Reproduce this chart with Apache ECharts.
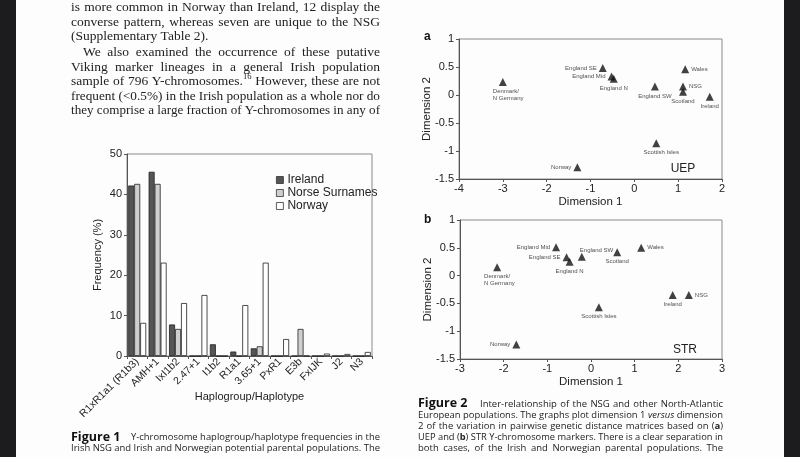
<!DOCTYPE html>
<html><head><meta charset="utf-8">
<script src="https://cdn.jsdelivr.net/npm/echarts@6/dist/echarts.min.js"></script>
<style>html,body{margin:0;padding:0;background:#fff}#c{width:800px;height:457px}</style>
</head><body><div id="c"></div>
<script>
// ---- Figure 1 data ----
const categories = ['R1xR1a1 (R1b3)','AMH+1','IxI1b2','2.47+1','I1b2','R1a1','3.65+1','PxR1','E3b','FxIJK','J2','N3'];
const ireland = [42.2,45.6,7.8,0,2.9,1.1,1.9,0,0,0,0,0];
const norse   = [42.6,42.6,6.7,0,0,0,2.4,0,6.7,0,0,0];
const norway  = [8.2,23.1,13.1,15.1,0,12.6,23.1,4.2,0,0.6,0.5,1.0];
const freqTicks = [0,10,20,30,40,50];

// ---- Figure 2a (UEP) ----
const popA  = ['Denmark/\nN Germany','England SE','England Mid','England N','England SW','Wales','NSG','Scotland','Ireland','Scottish Isles','Norway'];
const dim1A = [-3.0,-0.72,-0.52,-0.47,0.47,1.16,1.11,1.11,1.72,0.50,-1.30];
const dim2A = [0.23,0.48,0.33,0.29,0.15,0.46,0.15,0.06,-0.03,-0.86,-1.29];

// ---- Figure 2b (STR) ----
const popB  = ['Denmark/\nN Germany','England Mid','England SE','England N','England SW','Scotland','Wales','Ireland','NSG','Scottish Isles','Norway'];
const dim1B = [-2.15,-0.80,-0.56,-0.49,-0.21,0.60,1.15,1.87,2.24,0.18,-1.71];
const dim2B = [0.15,0.51,0.33,0.25,0.34,0.42,0.50,-0.35,-0.35,-0.57,-1.24];

// label placement styles (not data)
const labA = [
  {position:'bottom',align:'left',offset:[-10,0]},{position:'left'},{position:'left'},{position:'bottom'},
  {position:'bottom'},{position:'right'},{position:'right'},{position:'bottom'},{position:'bottom'},
  {position:'bottom',offset:[5,0]},{position:'left'}];
const labB = [
  {position:'bottom',align:'left',offset:[-13,0]},{position:'left'},{position:'left'},{position:'bottom'},
  {position:'right',offset:[-8,-6]},{position:'bottom'},{position:'right'},{position:'bottom'},{position:'right'},
  {position:'bottom'},{position:'left'}];

// ---- page text ----
const bodyLines = [
  ['is more common in Norway than Ireland, 12 display the',71,7,true],
  ['converse pattern, whereas seven are unique to the NSG',71,22,true],
  ['(Supplementary Table 2).',71,36,false],
  ['We also examined the occurrence of these putative',83,52,true],
  ['Viking marker lineages in a general Irish population',71,67,true],
  ['sample of 796 Y-chromosomes.^16 However, these are not',71,81,true],
  ['frequent (<0.5%) in the Irish population as a whole nor do',71,96,true],
  ['they comprise a large fraction of Y-chromosomes in any of',71,110,true]
];
const cap1Lines = [
  ['Y-chromosome haplogroup/haplotype frequencies in the',131,380,437],
  ['Irish NSG and Irish and Norwegian potential parental populations. The',71,380,448]
];
const cap2Lines = [
  ['Inter-relationship of the NSG and other North-Atlantic',480,723,404],
  ['European populations. The graphs plot dimension 1 _versus_ dimension',418,723,415],
  ['2 of the variation in pairwise genetic distance matrices based on (**a**)',418,723,426],
  ['UEP and (**b**) STR Y-chromosome markers. There is a clear separation in',418,723,437],
  ['both cases, of the Irish and Norwegian parental populations. The',418,723,448]
];

const ctx = document.createElement('canvas').getContext('2d');
function measure(t,font){ctx.font=font;return ctx.measureText(t).width;}
const FONTS = {
  body:{n:'13.5px "Liberation Serif"',b:'bold 13.5px "Liberation Serif"',i:'italic 13.5px "Liberation Serif"',s:'8.5px "Liberation Serif"'},
  cap:{n:'9.5px "Open Sans"',b:'bold 9.5px "Open Sans"',i:'italic 9.5px "Open Sans"',s:'6px "Open Sans"'}
};
function parseWord(w){
  const segs=[];const re=/\*\*(.+?)\*\*|_(.+?)_|\^(\S+)|([^*_^]+)/g;let m;
  while((m=re.exec(w))){
    if(m[1])segs.push({t:m[1],k:'b'});else if(m[2])segs.push({t:m[2],k:'i'});
    else if(m[3])segs.push({t:m[3],k:'s'});else segs.push({t:m[4],k:'n'});
  }
  return segs;
}
function textLine(str,x0,x1,y,fam,justify,color){
  const F=FONTS[fam];const words=str.split(' ').map(parseWord);
  const ww=words.map(s=>s.reduce((a,g)=>a+measure(g.t,F[g.k]),0));
  const tot=ww.reduce((a,b)=>a+b,0);const sp=measure(' ',F.n);const gaps=words.length-1;
  let scale=1,gap=sp;const natural=tot+gaps*sp;
  if(justify && natural>x1-x0){scale=(x1-x0)/natural;gap=sp*scale;}
  else if(justify&&gaps>0){gap=(x1-x0-tot)/gaps;}
  const els=[];let x=x0;
  words.forEach(segs=>{
    segs.forEach(g=>{
      const w=measure(g.t,F[g.k]);
      els.push({type:'text',x:x,y:g.k==='s'?y-4:y,scaleX:scale,silent:true,
        style:{text:g.t,font:F[g.k],fill:color,textVerticalAlign:'middle',verticalAlign:'middle'}});
      x+=w*scale;
    });
    x+=gap;
  });
  return els;
}
let gEls=[
  {type:'rect',shape:{x:0,y:0,width:16,height:457},style:{fill:'#1c1c1e'},silent:true},
  {type:'rect',shape:{x:784,y:0,width:16,height:457},style:{fill:'#1c1c1e'},silent:true}
];
bodyLines.forEach(l=>{gEls=gEls.concat(textLine(l[0],l[1],380,l[2],'body',l[3],'#222'));});
cap1Lines.forEach(l=>{gEls=gEls.concat(textLine(l[0],l[1],l[2],l[3],'cap',true,'#222'));});
cap2Lines.forEach(l=>{gEls=gEls.concat(textLine(l[0],l[1],l[2],l[3],'cap',true,'#222'));});
const boldCap='bold 12.5px "Open Sans"';
gEls.push({type:'text',x:71,y:437,silent:true,style:{text:'Figure 1',font:boldCap,fill:'#111',textVerticalAlign:'middle',verticalAlign:'middle'}});
gEls.push({type:'text',x:418,y:403,silent:true,style:{text:'Figure 2',font:boldCap,fill:'#111',textVerticalAlign:'middle',verticalAlign:'middle'}});
const panelFont='bold 12px "Liberation Sans"';
gEls.push({type:'text',x:424,y:37,silent:true,style:{text:'a',font:panelFont,fill:'#111',textVerticalAlign:'middle',verticalAlign:'middle'}});
gEls.push({type:'text',x:424,y:220,silent:true,style:{text:'b',font:panelFont,fill:'#111',textVerticalAlign:'middle',verticalAlign:'middle'}});
gEls.push({type:'text',x:683,y:169,silent:true,style:{text:'UEP',font:'12px "Liberation Sans"',fill:'#222',textAlign:'center',align:'center',textVerticalAlign:'middle',verticalAlign:'middle'}});
gEls.push({type:'text',x:685,y:350,silent:true,style:{text:'STR',font:'12px "Liberation Sans"',fill:'#222',textAlign:'center',align:'center',textVerticalAlign:'middle',verticalAlign:'middle'}});

const axisCol='#555', frameCol='#8a8a8a', txt='#222';
function valAxis(grid,min,max,interval,name,gap,isY){
  return {type:'value',gridIndex:grid,min:min,max:max,interval:interval,name:name,nameLocation:'middle',nameGap:gap,nameMoveOverlap:false,
    nameTextStyle:{fontSize:11.5,color:txt,fontFamily:'Liberation Sans'},
    axisLine:{show:true,onZero:false,lineStyle:{color:axisCol,width:1}},
    axisTick:{show:true,length:3,lineStyle:{color:axisCol}},
    splitLine:{show:false},
    axisLabel:{fontSize:11,color:txt,margin:isY?5:4,fontFamily:'Liberation Sans'}};
}
function scatterData(names,xs,ys,labs){
  return names.map((n,i)=>({name:n,value:[xs[i],ys[i]],label:Object.assign({distance:2},labs[i])}));
}
const scatterBase={type:'scatter',symbol:'triangle',symbolSize:8,itemStyle:{color:'#111'},
  label:{show:true,formatter:'{b}',fontSize:6,color:'#222',fontFamily:'Liberation Sans',lineHeight:7}};

const chart=echarts.init(document.getElementById('c'),null,{renderer:'canvas'});
chart.setOption({
  animation:false,
  backgroundColor:'#fdfdfd',
  textStyle:{fontFamily:'Liberation Sans'},
  grid:[
    {left:127,top:154,width:245,height:202,show:true,borderColor:frameCol,borderWidth:1,containLabel:false,outerBoundsMode:'none'},
    {left:459,top:39,width:263,height:140,show:true,borderColor:frameCol,borderWidth:1,containLabel:false,outerBoundsMode:'none'},
    {left:460,top:220,width:262,height:139,show:true,borderColor:frameCol,borderWidth:1,containLabel:false,outerBoundsMode:'none'}
  ],
  legend:{data:['Ireland','Norse Surnames','Norway'],orient:'vertical',left:271,top:169,icon:'rect',itemWidth:7,itemHeight:7,itemGap:1,
    itemStyle:{borderWidth:0.8,borderColor:'#333'},
    textStyle:{fontSize:12,color:txt,fontFamily:'Liberation Sans',padding:[0,0,0,-1]}},
  xAxis:[
    {type:'category',gridIndex:0,data:categories,name:'Haplogroup/Haplotype',nameLocation:'middle',nameGap:35,nameMoveOverlap:false,
      nameTextStyle:{fontSize:11,color:txt,fontFamily:'Liberation Sans'},
      axisLine:{show:true,lineStyle:{color:axisCol}},axisTick:{show:true,length:3,lineStyle:{color:axisCol}},
      axisLabel:{rotate:45,interval:0,fontSize:10.5,color:txt,margin:4,fontFamily:'Liberation Sans'}},
    valAxis(1,-4,2,1,'Dimension 1',17,false),
    valAxis(2,-3,3,1,'Dimension 1',17,false)
  ],
  yAxis:[
    {type:'value',gridIndex:0,min:freqTicks[0],max:freqTicks[freqTicks.length-1],interval:10,name:'Frequency (%)',nameLocation:'middle',nameGap:24,nameMoveOverlap:false,
      nameTextStyle:{fontSize:11,color:txt,fontFamily:'Liberation Sans'},
      axisLine:{show:true,lineStyle:{color:axisCol}},axisTick:{show:true,length:3,lineStyle:{color:axisCol}},
      splitLine:{show:false},axisLabel:{fontSize:11,color:txt,margin:5,fontFamily:'Liberation Sans'}},
    valAxis(1,-1.5,1,0.5,'Dimension 2',26,true),
    valAxis(2,-1.5,1,0.5,'Dimension 2',26,true)
  ],
  series:[
    {name:'Ireland',type:'bar',xAxisIndex:0,yAxisIndex:0,data:ireland,barGap:'0%',barCategoryGap:'12%',
      itemStyle:{color:'#555',borderColor:'#222',borderWidth:0.8}},
    {name:'Norse Surnames',type:'bar',xAxisIndex:0,yAxisIndex:0,data:norse,barGap:'0%',barCategoryGap:'12%',
      itemStyle:{color:'#cfcfcf',borderColor:'#222',borderWidth:0.8}},
    {name:'Norway',type:'bar',xAxisIndex:0,yAxisIndex:0,data:norway,barGap:'0%',barCategoryGap:'12%',
      itemStyle:{color:'#ffffff',borderColor:'#222',borderWidth:0.8}},
    Object.assign({},scatterBase,{name:'UEP',xAxisIndex:1,yAxisIndex:1,data:scatterData(popA,dim1A,dim2A,labA)}),
    Object.assign({},scatterBase,{name:'STR',xAxisIndex:2,yAxisIndex:2,data:scatterData(popB,dim1B,dim2B,labB)})
  ],
  graphic:{elements:gEls}
});
</script>
</body></html>
